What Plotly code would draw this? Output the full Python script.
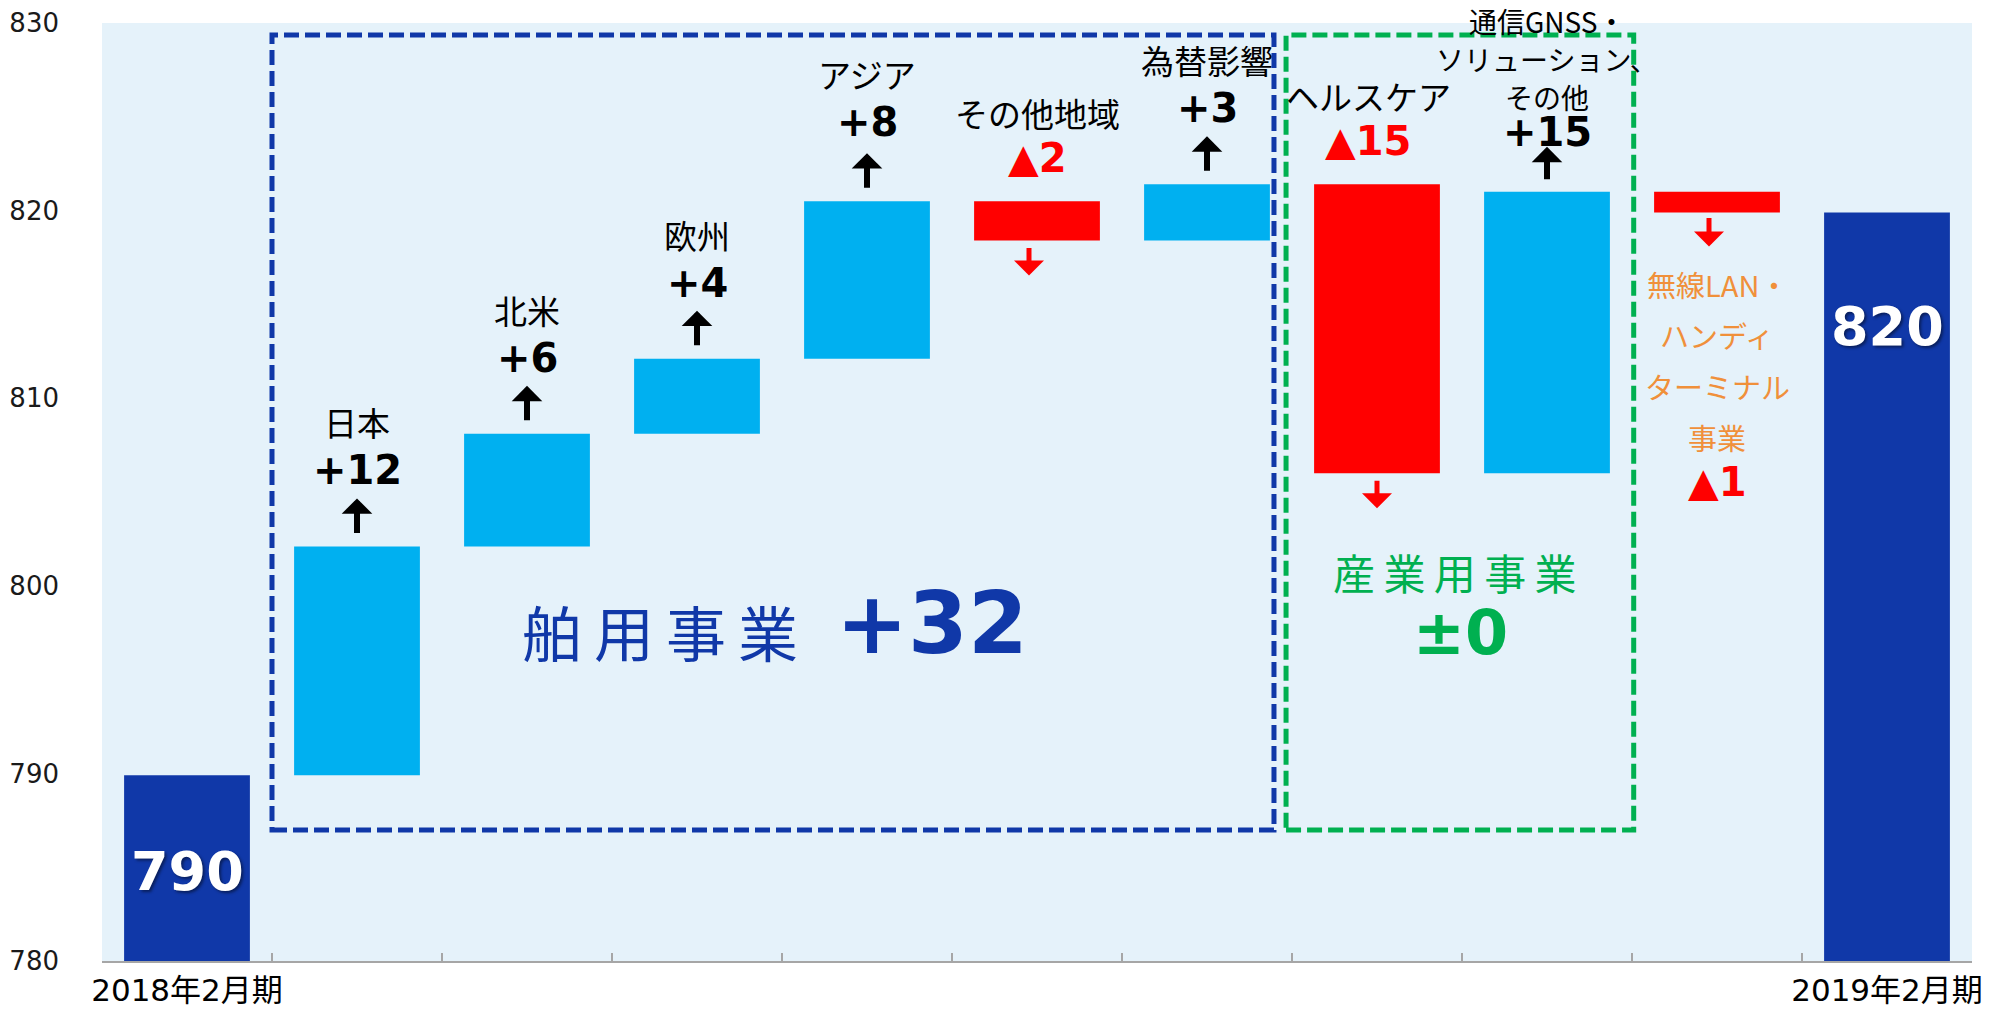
import numpy as np
import plotly.graph_objects as go

# ---------------- data ----------------
categories = ["2018年2月期", "日本", "北米", "欧州", "アジア", "その他地域", "為替影響",
              "ヘルスケア", "通信GNSS・ソリューション、その他", "無線LAN・ハンディターミナル事業",
              "2019年2月期"]
measures = ["absolute"] + ["relative"] * 9 + ["total"]
values = [789.9, 12.2, 6.0, 4.0, 8.4, -2.1, 3.0, -15.4, 15.0, -1.1, 0]
value_labels = ["790", "+12", "+6", "+4", "+8", "▲2", "+3", "▲15", "+15", "▲1", "820"]
name_labels = ["", "日本", "北米", "欧州", "アジア", "その他地域", "為替影響", "ヘルスケア",
               "通信GNSS・|ソリューション、|その他", "無線LAN・|ハンディ|ターミナル|事業", ""]
tick_labels = ["2018年2月期"] + [""] * 9 + ["2019年2月期"]
group_names = ["舶用事業", "産業用事業"]
group_values = ["+32", "±0"]
y_ticks = [780, 790, 800, 810, 820, 830]

# ---------------- styles ----------------
DARK_BLUE = "#1038A8"
LIGHT_BLUE = "#00B0F0"
RED = "#FF0000"
GREEN = "#00B050"
ORANGE = "#F0903A"
BG = "#E5F2FA"
CJK = "Noto Sans CJK JP"
LAT = "DejaVu Sans, Noto Sans CJK JP"

run = np.cumsum(values[:-1])
run = np.append(run, run[-1])

fig = go.Figure()
fig.add_trace(go.Waterfall(
    x=categories, y=values, measure=measures,
    increasing=dict(marker=dict(color=LIGHT_BLUE)),
    decreasing=dict(marker=dict(color=RED)),
    totals=dict(marker=dict(color=DARK_BLUE)),
    connector=dict(visible=False),
    width=0.74, textinfo="none", hoverinfo="skip", showlegend=False,
))


def add_text(x, y, text, yshift, size, color, family=CJK, bold=False, xshift=0, shadow=None):
    font = dict(family=family, size=size, color=color, weight="bold" if bold else "normal")
    if shadow:
        font["shadow"] = shadow
    fig.add_annotation(x=x, y=y, text=text, showarrow=False, xanchor="center", yanchor="middle",
                       yshift=yshift, xshift=xshift, font=font, borderpad=0)


def add_arrow(x, y, up, color, width, size, tip, length, xshift=0):
    sign = 1 if up else -1
    fig.add_annotation(x=x, y=y, text="", showarrow=True, arrowhead=1, arrowwidth=width,
                       arrowsize=size, arrowcolor=color, ax=0, ay=sign * length,
                       yshift=sign * tip, xshift=xshift, standoff=0)


# label / arrow placement (pixels relative to bar tops / bottoms)
default_up = dict(value=76, name=124, spacing=39, size=33, tip=48, len=36, dx=0, adx=0)
default_dn = dict(value=43, name=88, spacing=39, size=33, tip=35, len=29, dx=0, adx=0)
overrides = {
    4: dict(value=79, name=127),
    5: dict(adx=-8),
    7: dict(dx=-9),
    8: dict(value=60, name=95, spacing=38, size=28, tip=45, len=34),
}
below_labels = {9: dict(name=72, spacing=51, value=270, tip=34, len=30, adx=-8)}

for i in range(1, 10):
    before, after = run[i - 1], run[i]
    top, bottom = max(before, after), min(before, after)
    cat = categories[i]
    lines = name_labels[i].split("|")
    if i in below_labels:
        cfg = below_labels[i]
        add_arrow(cat, bottom, False, RED, 5, 1.0, cfg["tip"], cfg["len"], cfg["adx"])
        for k, ln in enumerate(lines):
            add_text(cat, bottom, ln, -(cfg["name"] + k * cfg["spacing"]), 29, ORANGE)
        add_text(cat, bottom, value_labels[i], -cfg["value"], 40, RED, family=LAT, bold=True)
        continue
    if values[i] > 0:
        cfg = {**default_up, **overrides.get(i, {})}
        add_arrow(cat, top, True, "black", 6, 0.85, cfg["tip"], cfg["len"], cfg["adx"])
        add_text(cat, top, value_labels[i], cfg["value"], 40, "black", family=LAT, bold=True,
                 xshift=cfg["dx"])
    else:
        cfg = {**default_dn, **overrides.get(i, {})}
        add_arrow(cat, bottom, False, RED, 5, 1.0, cfg["tip"], cfg["len"], cfg["adx"])
        add_text(cat, top, value_labels[i], cfg["value"], 40, RED, family=LAT, bold=True,
                 xshift=cfg["dx"])
    for k, ln in enumerate(reversed(lines)):
        add_text(cat, top, ln, cfg["name"] + k * cfg["spacing"], cfg["size"], "black",
                 xshift=cfg["dx"])

# totals labels inside bars
for i, ysh in [(0, -96), (10, -114)]:
    add_text(categories[i], run[i], value_labels[i], ysh, 54, "white", family=LAT, bold=True,
             shadow="2px 2px 3px rgba(0,0,0,0.45)")

# group boxes
fig.add_shape(type="rect", xref="x", yref="y", x0=0.5, x1=6.394, y0=786.98, y1=829.36,
              line=dict(color=DARK_BLUE, width=5, dash="15px,6px"), fillcolor="rgba(0,0,0,0)")
fig.add_shape(type="rect", xref="x", yref="y", x0=6.465, x1=8.51, y0=786.98, y1=829.36,
              line=dict(color=GREEN, width=5, dash="15px,6px"), fillcolor="rgba(0,0,0,0)")

# group labels
sp = "\u2009"
fig.add_annotation(x=2.78, y=797.6, text=sp.join(group_names[0]), showarrow=False,
                   font=dict(family=CJK, size=60, color=DARK_BLUE))
fig.add_annotation(x=4.38, y=798.0, text=group_values[0], showarrow=False,
                   font=dict(family=LAT, size=86, color=DARK_BLUE, weight="bold"))
fig.add_annotation(x=7.46, y=800.74, text=sp.join(group_names[1]), showarrow=False,
                   font=dict(family=CJK, size=42, color=GREEN))
fig.add_annotation(x=7.49, y=797.5, text=group_values[1], showarrow=False,
                   font=dict(family=LAT, size=62, color=GREEN, weight="bold"))

fig.update_layout(
    width=2007, height=1009,
    margin=dict(l=102, r=35, t=23, b=48),
    paper_bgcolor="white", plot_bgcolor=BG,
    showlegend=False,
    xaxis=dict(
        type="category", tickmode="array", tickvals=categories, ticktext=tick_labels,
        tickson="boundaries", ticks="inside", ticklen=8, tickwidth=2, tickcolor="#A6A6A6",
        showline=True, linecolor="#A6A6A6", linewidth=2, showgrid=False,
        tickfont=dict(family=LAT, size=31, color="black"), ticklabelstandoff=1,
        tickangle=0, automargin=False,
        range=[-0.5, 10.5], fixedrange=True,
    ),
    yaxis=dict(
        range=[780, 830], tickmode="array", tickvals=y_ticks, showgrid=False, zeroline=False,
        showline=False, ticks="", tickfont=dict(family=LAT, size=26, color="#1a1a1a"),
        ticklabelstandoff=42, automargin=False, fixedrange=True,
    ),
)

fig.write_html("out.html")
